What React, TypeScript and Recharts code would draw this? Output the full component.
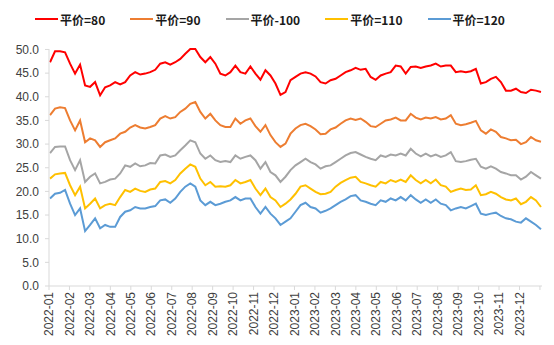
import React from "react";
import { LineChart, Line, XAxis, YAxis } from "recharts";

// 平价 buckets, one value per ~weekly sample
const red80 = [
  47.3, 49.6, 49.6, 49.4, 47.0, 44.9, 46.8, 42.4, 42.1, 43.1, 40.3, 42.0, 42.4, 43.1, 42.6, 43.1, 44.5, 45.2, 44.7, 44.9, 45.2, 45.7, 47.0, 47.3, 46.8,
  47.3, 48.0, 49.1, 50.1, 50.1, 48.4, 47.3, 48.4, 47.0, 44.9, 44.5, 45.2, 46.6, 45.2, 44.9, 46.4, 44.9, 43.6, 45.6, 44.5, 42.8, 40.4, 41.0, 43.5, 44.2,
  44.9, 45.2, 44.9, 44.3, 43.1, 42.8, 43.5, 43.8, 44.5, 45.2, 45.6, 46.1, 45.7, 45.9, 44.2, 43.6, 44.5, 44.9, 45.2, 46.6, 46.4, 44.9, 46.3, 46.4, 46.1,
  46.4, 46.6, 47.0, 46.4, 46.6, 46.6, 45.2, 45.4, 45.2, 45.4, 45.9, 42.8, 43.1, 43.8, 44.2, 43.1, 41.3, 41.3, 41.7, 41.0, 40.8, 41.5, 41.3, 41.0,
];
const orange90 = [
  36.1, 37.5, 37.8, 37.6, 35.0, 32.9, 35.0, 30.4, 31.2, 30.8, 29.4, 30.4, 30.8, 31.2, 32.2, 32.6, 33.5, 34.0, 33.5, 33.3, 33.6, 34.0, 35.4, 35.9, 35.4,
  35.7, 36.8, 37.5, 38.5, 38.9, 36.8, 35.4, 36.4, 35.0, 34.0, 33.6, 33.6, 35.4, 34.3, 35.0, 35.4, 33.8, 32.6, 34.0, 31.9, 30.4, 29.4, 30.1, 32.2, 33.3,
  34.0, 34.3, 33.8, 33.1, 32.1, 32.2, 33.1, 33.5, 34.3, 35.0, 35.4, 35.1, 35.4, 34.7, 33.8, 33.6, 34.3, 35.0, 35.2, 35.6, 35.0, 35.0, 36.4, 35.6, 35.2,
  35.6, 35.4, 35.7, 35.2, 35.4, 36.1, 34.3, 34.0, 34.2, 34.5, 34.9, 32.9, 32.2, 33.1, 32.6, 31.5, 31.2, 30.8, 30.9, 30.0, 30.4, 31.5, 30.8, 30.5,
];
const gray100 = [
  28.1, 29.4, 29.5, 29.5, 26.6, 24.5, 26.6, 22.0, 23.1, 23.8, 21.7, 22.0, 22.5, 22.7, 23.8, 25.5, 25.2, 25.9, 25.3, 25.5, 26.0, 25.9, 27.6, 27.8, 27.3,
  27.6, 28.7, 29.7, 30.8, 30.4, 28.0, 26.9, 27.6, 26.6, 26.2, 26.4, 26.2, 27.6, 26.9, 27.3, 27.6, 26.6, 24.8, 26.2, 24.1, 23.4, 22.0, 23.1, 24.5, 25.5,
  26.2, 26.9, 26.2, 25.7, 24.8, 25.3, 25.5, 26.2, 26.9, 27.6, 28.1, 28.3, 27.8, 27.3, 26.9, 26.6, 27.6, 27.3, 27.8, 27.6, 28.0, 27.6, 29.0, 28.0, 27.4,
  28.0, 27.4, 27.8, 27.3, 27.6, 28.3, 26.4, 26.2, 26.4, 26.7, 26.9, 25.2, 24.8, 25.3, 24.8, 24.1, 23.8, 23.4, 23.4, 22.5, 23.1, 24.1, 23.4, 22.7,
];
const yellow110 = [
  22.7, 23.6, 23.8, 23.9, 21.3, 19.2, 21.0, 16.4, 17.4, 18.5, 16.4, 17.1, 17.4, 17.1, 18.8, 20.3, 19.9, 20.6, 20.1, 19.9, 20.4, 20.6, 22.0, 22.2, 21.7,
  22.4, 23.8, 24.8, 25.7, 25.2, 22.7, 21.3, 22.0, 21.0, 21.1, 21.0, 21.3, 22.4, 21.7, 22.0, 22.4, 20.6, 19.2, 20.6, 18.8, 18.1, 16.7, 17.4, 18.3, 19.5,
  21.0, 21.3, 20.6, 19.9, 19.4, 19.5, 19.9, 21.0, 21.8, 22.4, 22.9, 23.1, 22.0, 21.7, 21.3, 21.0, 22.0, 21.7, 22.4, 22.0, 22.5, 22.0, 23.4, 22.4, 21.7,
  22.4, 21.7, 22.5, 21.3, 21.0, 19.9, 20.3, 20.6, 20.3, 20.4, 21.3, 19.2, 19.4, 19.9, 19.5, 18.8, 18.3, 18.1, 18.5, 17.3, 17.8, 18.8, 18.1, 16.7,
];
const blue120 = [
  18.5, 19.5, 19.7, 20.3, 17.4, 15.0, 16.4, 11.6, 12.9, 14.3, 12.2, 12.9, 12.5, 12.5, 14.6, 15.7, 16.0, 16.7, 16.4, 16.4, 16.7, 16.9, 18.1, 18.3, 17.6,
  18.5, 19.9, 21.0, 21.7, 21.0, 18.1, 17.1, 17.8, 17.1, 17.4, 17.8, 18.1, 18.8, 18.1, 18.5, 18.5, 16.7, 15.3, 16.7, 15.3, 14.3, 12.9, 13.6, 14.3, 15.7,
  17.1, 17.6, 16.7, 16.4, 15.5, 15.9, 16.4, 17.1, 17.8, 18.3, 19.0, 19.2, 18.1, 17.8, 17.4, 17.1, 18.1, 17.8, 18.5, 18.1, 18.8, 18.1, 19.2, 18.3, 17.6,
  18.3, 17.6, 18.3, 17.4, 17.1, 16.0, 16.4, 16.7, 16.4, 16.9, 17.4, 15.3, 15.0, 15.3, 15.5, 14.8, 14.3, 14.1, 13.6, 13.4, 14.3, 13.6, 12.9, 12.0,
];

// month axis: tick k sits at the start of month k (0 = 2022-01), 24 closes the axis
const monthLabels = [
  "2022-01", "2022-02", "2022-03", "2022-04", "2022-05", "2022-06", "2022-07", "2022-08", "2022-09", "2022-10", "2022-11", "2022-12",
  "2023-01", "2023-02", "2023-03", "2023-04", "2023-05", "2023-06", "2023-07", "2023-08", "2023-09", "2023-10", "2023-11", "2023-12",
];
const monthTicks = Array.from({ length: 25 }, (_, k) => k);
const yTicks = [0, 5, 10, 15, 20, 25, 30, 35, 40, 45, 50];

// samples are evenly spaced (about a week apart) from early Jan-22 to end of Dec-23
const FIRST_SAMPLE = 0.05;
const LAST_SAMPLE = 24.05;

const SERIES = [
  { key: "p80", name: "平价=80", values: red80, color: "#FF0000" },
  { key: "p90", name: "平价=90", values: orange90, color: "#ED7D31" },
  { key: "p100", name: "平价-100", values: gray100, color: "#A5A5A5" },
  { key: "p110", name: "平价=110", values: yellow110, color: "#FFC000" },
  { key: "p120", name: "平价=120", values: blue120, color: "#5B9BD5" },
];

const data = red80.map((_, i) => {
  const row: Record<string, number> = {
    t: FIRST_SAMPLE + (i * (LAST_SAMPLE - FIRST_SAMPLE)) / (red80.length - 1),
  };
  SERIES.forEach((s) => (row[s.key] = s.values[i]));
  return row;
});

const AXIS_GRAY = "#D9D9D9";
const LABEL_COLOR = "#404040";

function MonthTick({ x, y, payload }: any) {
  const label = monthLabels[Math.round(payload.value)];
  if (!label) return null;
  return (
    <text
      x={x}
      y={y}
      transform={`rotate(-90 ${x} ${y})`}
      textAnchor="end"
      dy="0.35em"
      fontSize={12}
      fill={LABEL_COLOR}
      fontFamily="'Liberation Sans', Arial, sans-serif"
    >
      {label}
    </text>
  );
}

// legend sits above the plot, same look as the Excel original
function TopLegend() {
  return (
    <div
      style={{
        position: "absolute",
        left: 35,
        top: 8,
        height: 22,
        display: "flex",
        alignItems: "center",
        fontFamily: "'Noto Sans CJK SC', sans-serif",
        fontWeight: 700,
        fontSize: 12,
        color: "#1a1a1a",
        whiteSpace: "nowrap",
      }}
    >
      {SERIES.map((s) => (
        <span key={s.key} style={{ display: "flex", alignItems: "center", marginRight: 25 }}>
          <span style={{ display: "inline-block", width: 23, height: 2, background: s.color, marginRight: 2 }} />
          {s.name}
        </span>
      ))}
    </div>
  );
}

export default function App() {
  return (
    <div style={{ position: "absolute", left: 0, top: 0, width: 554, height: 345, background: "#fff" }}>
      <LineChart
        width={554}
        height={345}
        data={data}
        margin={{ top: 49, right: 12, left: 8, bottom: 7 }}
      >
        <XAxis
          dataKey="t"
          type="number"
          domain={[0, 24.1]}
          ticks={monthTicks}
          interval={0}
          tick={<MonthTick />}
          tickSize={4}
          tickLine={{ stroke: AXIS_GRAY }}
          axisLine={{ stroke: AXIS_GRAY }}
          height={52}
        />
        <YAxis
          domain={[0, 50]}
          ticks={yTicks}
          interval={0}
          width={41}
          tickSize={4}
          tickMargin={6}
          tickFormatter={(v: number) => v.toFixed(1)}
          tick={{ fontSize: 12, fill: LABEL_COLOR, fontFamily: "'Liberation Sans', Arial, sans-serif" }}
          tickLine={{ stroke: AXIS_GRAY }}
          axisLine={{ stroke: AXIS_GRAY }}
        />
        {SERIES.map((s) => (
          <Line
            key={s.key}
            dataKey={s.key}
            name={s.name}
            type="linear"
            stroke={s.color}
            strokeWidth={2}
            dot={false}
            isAnimationActive={false}
          />
        ))}
      </LineChart>
      <TopLegend />
    </div>
  );
}
